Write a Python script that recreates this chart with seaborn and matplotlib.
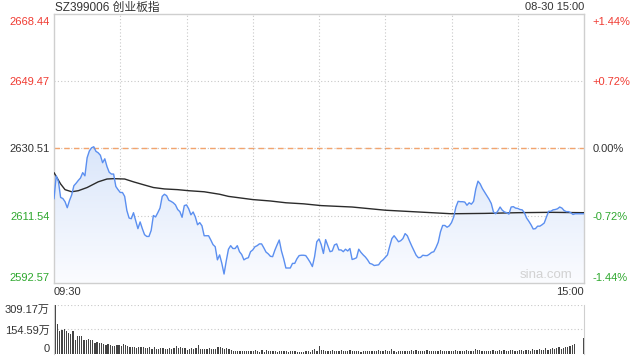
import numpy as np
import matplotlib
matplotlib.use("Agg")
import matplotlib.pyplot as plt
from matplotlib.colors import LinearSegmentedColormap
from matplotlib.transforms import ScaledTranslation
import seaborn as sns

# ------------------------------------------------------------
# Data (one value per minute)
# ------------------------------------------------------------

PREV_CLOSE = 2630.51
Y_TICKS = [2592.57, 2611.54, 2630.51, 2649.47, 2668.44]
PCT_LABELS = ["-1.44%", "-0.72%", "0.00%", "+0.72%", "+1.44%"]
VOL_TICKS = [0, 154.59, 309.17]
VOL_LABELS = ["0", "154.59万", "309.17万"]
GRID_MINUTES = [30, 60, 90, 120, 150, 180, 210]

PRICE = [
    2616.3, 2622.8, 2621.2, 2616.7, 2616.4, 2615.5, 2613.8, 2615.8, 2617.4, 2620.0, 2620.7,
    2621.5, 2622.2, 2623.7, 2622.8, 2627.9, 2629.8, 2630.7, 2631.0, 2629.7, 2629.3,
    2628.6, 2626.5, 2627.6, 2625.4, 2623.8, 2623.3, 2623.3, 2619.8, 2618.9, 2618.1,
    2618.1, 2617.0, 2613.0, 2610.9, 2610.7, 2612.4, 2610.2, 2607.9, 2609.8, 2607.9,
    2606.2, 2605.7, 2605.7, 2607.4, 2611.6, 2611.2, 2612.4, 2613.7, 2617.0, 2617.6,
    2617.2, 2615.9, 2615.6, 2615.2, 2614.6, 2613.3, 2612.7, 2611.1, 2614.4, 2614.6,
    2613.5, 2611.8, 2612.6, 2611.2, 2609.0, 2609.6, 2608.7, 2605.9, 2605.9, 2605.9,
    2604.7, 2603.4, 2602.8, 2599.1, 2600.5, 2598.1, 2595.1, 2598.8, 2602.1, 2603.1,
    2602.3, 2602.3, 2603.1, 2601.4, 2600.6, 2599.1, 2599.5, 2599.7, 2601.4, 2601.9,
    2602.8, 2603.1, 2603.6, 2603.6, 2602.5, 2601.3, 2600.8, 2600.1, 2600.0, 2601.8,
    2603.3, 2604.7, 2601.6, 2599.4, 2596.8, 2596.8, 2596.8, 2598.1, 2598.1, 2599.4,
    2600.3, 2600.4, 2600.4, 2600.3, 2599.4, 2598.4, 2597.2, 2600.0, 2604.2, 2605.0,
    2603.4, 2600.9, 2604.8, 2603.1, 2601.4, 2601.6, 2603.3, 2603.6, 2601.9, 2601.9,
    2601.4, 2602.1, 2601.6, 2602.3, 2599.2, 2599.4, 2599.7, 2602.1, 2601.2, 2600.5,
    2599.9, 2599.1, 2598.1, 2597.9, 2597.5, 2597.6, 2597.7, 2598.6, 2599.1, 2599.8,
    2600.5, 2602.9, 2605.1, 2605.9, 2605.1, 2604.2, 2604.5, 2605.1, 2606.5, 2605.9,
    2604.4, 2603.0, 2601.7, 2600.4, 2599.7, 2599.8, 2600.4, 2600.3, 2600.3, 2600.7,
    2601.2, 2601.4, 2602.6, 2604.1, 2607.0, 2608.8, 2608.8, 2608.3, 2608.7, 2609.6,
    2611.2, 2614.0, 2615.6, 2615.5, 2615.5, 2615.4, 2614.5, 2615.2, 2614.8, 2615.6,
    2619.1, 2621.3, 2620.5, 2619.2, 2618.2, 2617.2, 2616.2, 2615.0, 2612.6, 2612.1,
    2612.9, 2614.0, 2613.1, 2612.6, 2612.4, 2612.0, 2614.0, 2614.1, 2613.7, 2613.6,
    2613.3, 2613.2, 2612.4, 2610.9, 2610.0, 2609.0, 2607.8, 2607.9, 2608.6, 2608.6,
    2609.0, 2609.5, 2611.2, 2612.8, 2612.8, 2613.2, 2613.3, 2613.5, 2614.0, 2613.7,
    2613.0, 2612.7, 2612.7, 2612.4, 2611.9, 2612.1, 2612.1, 2612.1, 2612.1, 2612.1,
]

AVG_MIN = [0, 3, 5, 8, 11, 15, 20, 24, 27, 32, 36, 41, 45, 50, 56, 61,
           68, 75, 79, 90, 98, 105, 113, 121, 135, 150, 165, 180, 195, 210, 225, 240]
AVG_PRICE = [2623.7, 2620.5, 2618.9, 2618.3, 2618.6, 2619.5, 2621.1, 2621.9,
             2622.0, 2621.9, 2621.1, 2620.2, 2619.5, 2619.1, 2618.9, 2618.6,
             2618.3, 2617.6, 2617.0, 2616.1, 2615.7, 2615.2, 2614.9, 2614.4,
             2614.0, 2613.1, 2612.6, 2612.1, 2612.2, 2612.4, 2612.5, 2612.4]

# volume in 万
VOLUME = [
    309, 190, 148, 152, 159, 142, 132, 125, 142, 90,
    115, 115, 115, 90, 86, 96, 90, 88, 69, 73,
    69, 67, 63, 56, 61, 58, 52, 48, 58, 58,
    52, 65, 56, 52, 42, 46, 42, 38, 42, 44,
    44, 40, 38, 44, 33, 44, 33, 33, 35, 35,
    33, 31, 35, 33, 35, 52, 35, 42, 38, 38,
    27, 33, 35, 31, 35, 58, 33, 29, 31, 29,
    35, 33, 31, 33, 46, 46, 35, 33, 38, 31,
    27, 21, 22, 21, 21, 22, 21, 21, 22, 21,
    21, 25, 17, 15, 23, 15, 27, 19, 17, 17,
    21, 13, 19, 17, 17, 21, 13, 19, 17, 19,
    13, 15, 15, 15, 17, 21, 15, 25, 33, 21,
    52, 25, 23, 19, 17, 21, 23, 19, 17, 19,
    23, 21, 21, 21, 23, 21, 17, 17, 17, 15,
    21, 21, 21, 21, 17, 17, 21, 23, 19, 21,
    27, 17, 21, 33, 19, 15, 19, 21, 17, 19,
    21, 17, 23, 19, 27, 21, 17, 19, 21, 23,
    21, 19, 21, 17, 19, 23, 21, 19, 21, 17,
    19, 21, 23, 19, 17, 21, 19, 23, 21, 19,
    21, 31, 27, 23, 21, 21, 19, 21, 19, 23,
    21, 19, 25, 21, 23, 19, 21, 25, 23, 21,
    19, 23, 25, 21, 27, 23, 21, 29, 25, 27,
    31, 27, 25, 38, 27, 31, 35, 33, 38, 44,
    33, 38, 44, 46, 52, 58, 65,
    1, 1, 1, 103,
]

RED = "#f03b32"
GREEN = "#2fa82f"
DARK = "#333333"
GRID = "#c8c8c8"

sns.set_style("white")
plt.rcParams["font.family"] = ["Liberation Sans", "Noto Sans CJK SC", "DejaVu Sans"]

minutes = np.arange(len(PRICE))
fig = plt.figure(figsize=(6.4, 3.6), dpi=100)

# ------------------------------------------------------------
# Price panel
# ------------------------------------------------------------
ax = fig.add_axes([54 / 640, 1 - 283 / 360, 530 / 640, 269 / 360])
ylo, yhi = Y_TICKS[0], Y_TICKS[-1]

# gradient fill under the price line
poly = ax.fill_between(minutes, PRICE, ylo, color="none", lw=0)
cmap = LinearSegmentedColormap.from_list("fill", ["#fbfcff", "#dae6fa"])
grad = np.linspace(0, 1, 256).reshape(-1, 1)
im = ax.imshow(grad, extent=[0, 240, ylo, max(PRICE)], origin="lower",
               aspect="auto", cmap=cmap, zorder=1)
im.set_clip_path(poly.get_paths()[0], transform=ax.transData)

ax.axhline(PREV_CLOSE, color="#f2a46e", lw=1, ls=(0, (4, 3)), zorder=2)
sns.lineplot(x=minutes, y=PRICE, ax=ax, color="#5b8ff0", lw=1, zorder=4,
             errorbar=None, sort=False)
sns.lineplot(x=AVG_MIN, y=AVG_PRICE, ax=ax, color="#2b2b2b", lw=1, zorder=3,
             errorbar=None, sort=False)

ax.set_xlim(0, 240)
ax.set_ylim(ylo, yhi)
ax.set_xlabel("")
ax.set_ylabel("")
ax.set_xticks([0, 240])
ax.set_xticklabels(["09:30", "15:00"], fontsize=8, color=DARK)
xl = ax.get_xticklabels()
xl[0].set_ha("left")
xl[1].set_ha("right")
ax.set_yticks(Y_TICKS)
ax.set_yticklabels([f"{v:.2f}" for v in Y_TICKS], fontsize=8)
ax.tick_params(axis="both", which="both", length=0)
ax.tick_params(axis="y", pad=3)
ax.tick_params(axis="x", pad=3)
ax.grid(False)
for m in GRID_MINUTES:
    ax.axvline(m, color=GRID, lw=0.8, ls=(0, (1, 2)), zorder=0.5)
for v in Y_TICKS[1:-1]:
    ax.axhline(v, color=GRID, lw=0.8, ls=(0, (1, 2)), zorder=0.5)
for s in ax.spines.values():
    s.set_color("#cfcfcf")
    s.set_linewidth(1)

colors = [GREEN, GREEN, DARK, RED, RED]
down = ScaledTranslation(0, -2 / 72, fig.dpi_scale_trans)
for lbl, c in zip(ax.get_yticklabels(), colors):
    lbl.set_color(c)
ax.get_yticklabels()[0].set_va("bottom")
ax.get_yticklabels()[-1].set_va("top")
ax.get_yticklabels()[-1].set_transform(ax.get_yticklabels()[-1].get_transform() + down)

ax2 = ax.twinx()
ax2.set_ylim(ylo, yhi)
ax2.set_yticks(Y_TICKS)
ax2.set_yticklabels(PCT_LABELS, fontsize=8)
ax2.tick_params(axis="y", length=0, pad=6)
for s in ax2.spines.values():
    s.set_visible(False)
for lbl, c in zip(ax2.get_yticklabels(), colors):
    lbl.set_color(c)
ax2.get_yticklabels()[0].set_va("bottom")
ax2.get_yticklabels()[-1].set_va("top")
ax2.get_yticklabels()[-1].set_transform(ax2.get_yticklabels()[-1].get_transform() + down)

ax.text(0.979, 0.008, "sina.com", transform=ax.transAxes, ha="right",
        va="bottom", fontsize=9.5, color="#d2d2d2", zorder=5)

fig.text(55 / 640, 1 - 8 / 360, "SZ399006 创业板指", ha="left", va="center",
         fontsize=8.5, color=DARK)
fig.text(584 / 640, 1 - 7 / 360, "08-30 15:00", ha="right", va="center",
         fontsize=8, color=DARK)

# ------------------------------------------------------------
# Volume panel
# ------------------------------------------------------------
axv = fig.add_axes([54 / 640, 1 - 354 / 360, 530 / 640, 49 / 360])
sns.barplot(x=minutes, y=VOLUME, ax=axv, native_scale=True, color="#444444",
            saturation=1, width=0.55, linewidth=0)
axv.set_xlim(-0.6, 240.4)
axv.set_ylim(0, VOL_TICKS[-1])
axv.set_xlabel("")
axv.set_ylabel("")
axv.set_xticks([])
axv.set_yticks(VOL_TICKS)
axv.set_yticklabels(VOL_LABELS, fontsize=8, color=DARK)
axv.tick_params(axis="y", length=0, pad=3)
for v in VOL_TICKS[1:]:
    axv.axhline(v, color=GRID, lw=0.8, ls=(0, (1, 2)), zorder=0.5)
vl = axv.get_yticklabels()
vl[0].set_va("bottom")
vl[-1].set_va("top")
axv.spines["top"].set_visible(False)
axv.spines["bottom"].set_visible(False)
axv.spines["left"].set_color("#cfcfcf")
axv.spines["right"].set_color("#cfcfcf")

fig.savefig("out.png", dpi=100)
